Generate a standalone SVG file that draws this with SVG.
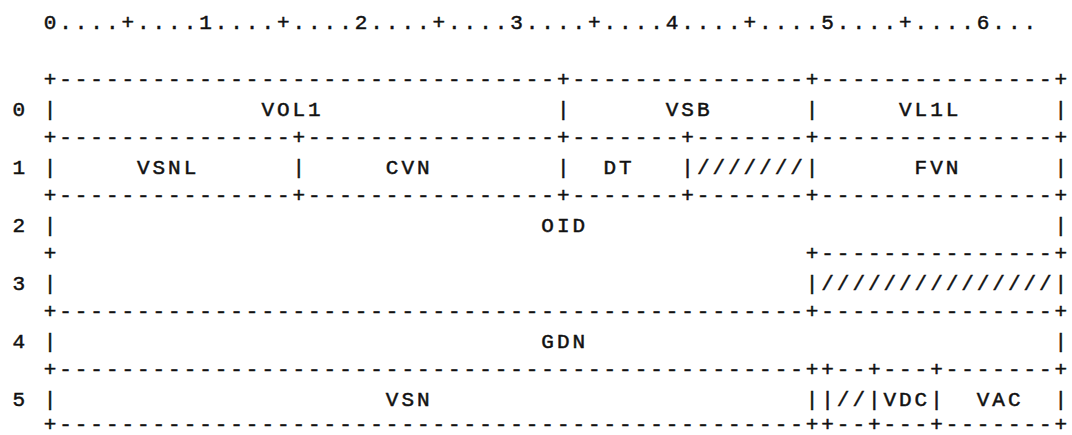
<svg xmlns="http://www.w3.org/2000/svg" width="1072" height="435" viewBox="0 0 1072 435">
<style>
text{font-family:"Liberation Mono","DejaVu Sans Mono",monospace;font-size:21px;letter-spacing:2.95px;fill:#111;stroke:#111;stroke-width:0.5px;white-space:pre}
</style>
<rect width="1072" height="435" fill="#fff"/>
<g id="ruler">
<text x="43.7" y="28.9" xml:space="preserve">0....+....1....+....2....+....3....+....4....+....5....+....6...</text>
</g>
<g id="connectors">
<text x="43.7" y="85.7" xml:space="preserve">+--------------------------------+---------------+---------------+</text>
<text x="43.7" y="143.7" xml:space="preserve">+---------------+----------------+-------+-------+---------------+</text>
<text x="43.7" y="201.7" xml:space="preserve">+---------------+----------------+-------+-------+---------------+</text>
<text x="43.7" y="259.7" xml:space="preserve">+                                                +---------------+</text>
<text x="43.7" y="317.7" xml:space="preserve">+------------------------------------------------+---------------+</text>
<text x="43.7" y="375.7" xml:space="preserve">+------------------------------------------------++--+---+-------+</text>
<text x="43.7" y="430.5" xml:space="preserve">+------------------------------------------------++--+---+-------+</text>
</g>
<g id="row0">
<text x="12.6" y="115.9" xml:space="preserve">0 |             VOL1               |      VSB      |     VL1L      |</text>
</g>
<g id="row1">
<text x="12.6" y="173.9" xml:space="preserve">1 |     VSNL      |     CVN        |  DT   |///////|      FVN      |</text>
</g>
<g id="row2">
<text x="12.6" y="231.9" xml:space="preserve">2 |                               OID                              |</text>
</g>
<g id="row3">
<text x="12.6" y="289.9" xml:space="preserve">3 |                                                |///////////////|</text>
</g>
<g id="row4">
<text x="12.6" y="347.9" xml:space="preserve">4 |                               GDN                              |</text>
</g>
<g id="row5">
<text x="12.6" y="405.9" xml:space="preserve">5 |                     VSN                        ||//|VDC|  VAC  |</text>
</g>
</svg>
